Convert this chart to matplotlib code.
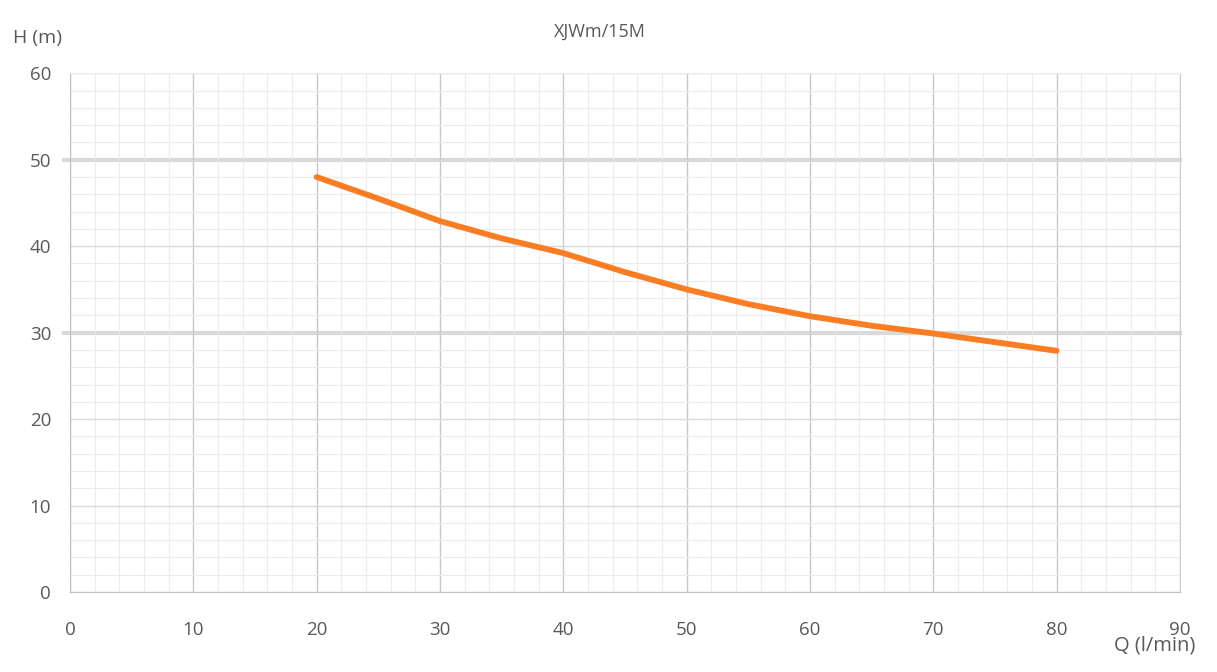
import numpy as np
import matplotlib.pyplot as plt
from matplotlib.ticker import MultipleLocator

plt.rcParams['font.family'] = ['Open Sans', 'DejaVu Sans']

# Pump curve
q = [20, 25, 30, 35, 40, 45, 50, 55, 60, 65, 70, 75, 80]
h = [48.0, 45.5, 42.9, 40.9, 39.2, 37.0, 35.0, 33.3, 31.9, 30.8, 29.9, 28.9, 27.9]

x_ticks = [0, 10, 20, 30, 40, 50, 60, 70, 80, 90]
y_ticks = [0, 10, 20, 30, 40, 50, 60]
bold_rows = [30, 50]

text_col = '#595959'

fig = plt.figure(figsize=(12.17, 6.72), dpi=100)
ax = fig.add_axes([0.0575, 0.119, 0.912, 0.772])

ax.set_xlim(0, 90)
ax.set_ylim(0, 60)
ax.xaxis.set_minor_locator(MultipleLocator(2))
ax.yaxis.set_minor_locator(MultipleLocator(2))
ax.set_xticks(x_ticks)
ax.set_yticks(y_ticks)

# grid
ax.grid(which='minor', color='#ececec', lw=0.8)
ax.grid(which='major', axis='x', color='#c9c9c9', lw=1.0)
ax.grid(which='major', axis='y', color='#dadada', lw=1.0)
for yv in bold_rows:
    ax.axhline(yv, xmin=-0.005, xmax=1.0, color='#d9d9d9', lw=3, clip_on=False, zorder=1)

for s in ['left', 'bottom']:
    ax.spines[s].set_color('#bfbfbf')
ax.spines['right'].set_color('#cfcfcf')
ax.spines['top'].set_color('#ececec')

ax.tick_params(which='both', length=0, colors=text_col, labelsize=13.5)
ax.tick_params(axis='x', pad=21)
ax.tick_params(axis='y', pad=13.5)

ax.plot(q, h, color='#fb7d23', lw=4.2, solid_capstyle='round',
        solid_joinstyle='round', zorder=3)

fig.text(0.0107, 0.943, 'H (m)', color=text_col, fontsize=14, ha='left', va='center')
fig.text(0.982, 0.04, 'Q (l/min)', color=text_col, fontsize=14.5, ha='right', va='center')
fig.text(0.493, 0.953, 'XJWm/15M', color=text_col, fontsize=13, ha='center', va='center')

fig.savefig('out.png', dpi=100)
